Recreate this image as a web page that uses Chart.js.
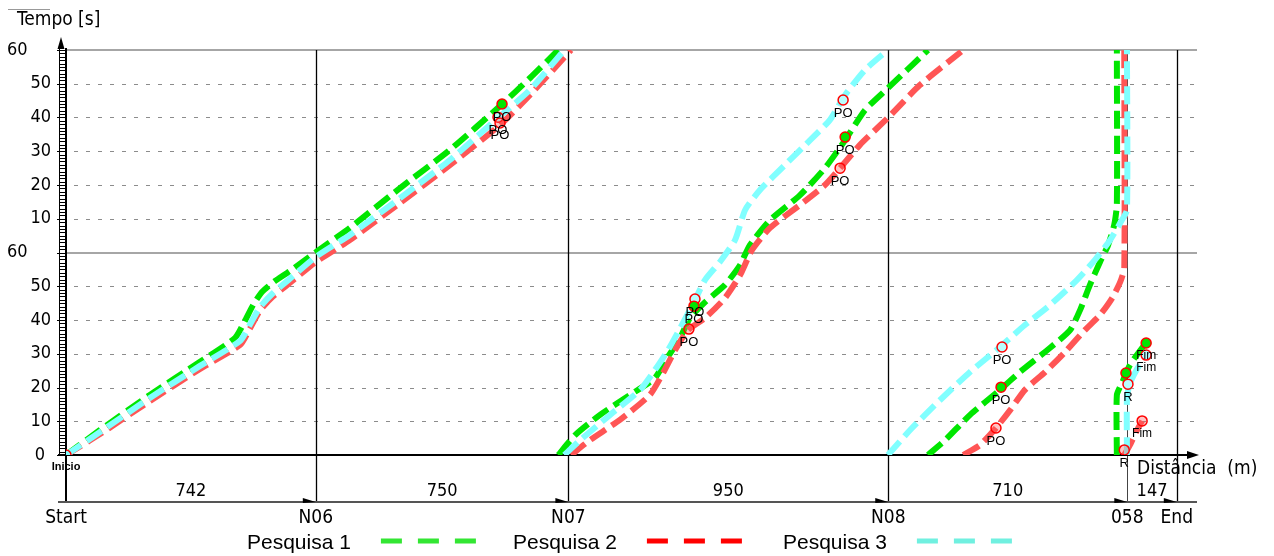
<!DOCTYPE html>
<html>
<head>
<meta charset="utf-8">
<title>Tempo x Distância</title>
<script src="https://cdn.jsdelivr.net/npm/chart.js@4.4.1/dist/chart.umd.min.js"></script>
<style>
  html, body { margin: 0; padding: 0; background: #fff; }
  #wrap { width: 1274px; height: 556px; position: relative; }
</style>
</head>
<body>
<div id="wrap"><canvas id="chart"></canvas></div>
<script>
// stations along the route (m) and the section lengths between them
const stationNames = ['Start', 'N06', 'N07', 'N08', '058', 'End'];
const stationDist = [0, 742, 1492, 2442, 3152, 3299];
const sectionLengths = [742, 750, 950, 710, 147];

// time axis runs 0..120 s and wraps, labels show seconds within the minute
const timeTicks = [0, 10, 20, 30, 40, 50, 60, 70, 80, 90, 100, 110, 120];

// Pesquisa 1 (null = wrap back to 0 s)
const p1Dist = [0, 101, 249, 398, 502, 530, 556, 582, 620, 665, 742, 843, 992, 1140, 1289, 1378, 1462,
  1462, 1462, 1512, 1586, 1675, 1749, 1785, 1824, 1853, 1898, 1957, 2002, 2031, 2091, 2180, 2254, 2314, 2373, 2441, 2560,
  2560, 2560, 2611, 2685, 2774, 2833, 2922, 2982, 3012, 3041, 3071, 3095, 3113, 3121, 3121,
  3121, 3121, 3121, 3136, 3160, 3207];
const p1Time = [0, 7.4, 17.8, 27.6, 34.7, 39.5, 44.5, 48.3, 51.5, 54.5, 60.1, 67.3, 79.1, 90.4, 103.4, 111.7, 120,
  null, 0, 5.9, 11.9, 17.8, 22.8, 28.7, 34.7, 40.6, 45.3, 50.4, 56.3, 62.2, 69.6, 77.0, 85.0, 93.3, 102.2, 108.7, 120,
  null, 0, 4.4, 11.9, 19.3, 24.6, 31.7, 37.0, 43.0, 50.4, 57.2, 62.2, 68.1, 74.1, 120,
  null, 0, 17.8, 21.3, 26.7, 33.2];

// Pesquisa 2
const p2Dist = [0, 101, 249, 398, 517, 546, 576, 615, 660, 742, 843, 992, 1140, 1289, 1378, 1500,
  1500, 1500, 1556, 1645, 1734, 1770, 1809, 1847, 1898, 1957, 2002, 2037, 2091, 2180, 2254, 2299, 2358, 2441, 2536, 2665,
  2665, 2665, 2715, 2762, 2804, 2848, 2908, 2967, 3026, 3071, 3107, 3131, 3143, 3143,
  3143, 3143, 3160, 3178, 3196];
const p2Time = [0, 6.2, 16.0, 25.5, 32.6, 37.4, 42.8, 47.0, 50.6, 57.2, 63.7, 74.7, 85.9, 97.8, 106.7, 120,
  null, 0, 4.4, 10.4, 17.8, 23.7, 31.1, 37.0, 40.6, 46.5, 53.3, 60.7, 67.3, 74.1, 80.0, 85.0, 91.9, 99.9, 109.6, 120,
  null, 0, 3.0, 8.0, 13.3, 19.3, 24.6, 30.5, 37.0, 41.5, 46.5, 51.3, 55.4, 120,
  null, 0, 3.0, 6.8, 10.1];

// Pesquisa 3
const p3Dist = [0, 101, 249, 398, 517, 546, 576, 615, 660, 742, 843, 992, 1140, 1283, 1378, 1480,
  1480, 1480, 1527, 1616, 1705, 1749, 1788, 1824, 1868, 1898, 1942, 1987, 2017, 2061, 2135, 2210, 2269, 2314, 2373, 2441,
  2441, 2441, 2507, 2596, 2685, 2774, 2848, 2922, 2997, 3056, 3101, 3136, 3151, 3151,
  3151, 3151, 3151, 3160, 3181, 3208];
const p3Time = [0, 6.8, 16.9, 26.4, 33.8, 38.6, 43.8, 48.0, 51.8, 58.7, 65.2, 76.1, 87.4, 99.9, 108.2, 120,
  null, 0, 4.4, 11.9, 19.3, 25.2, 31.1, 37.6, 45.9, 51.9, 57.2, 63.7, 72.6, 78.5, 85.9, 93.3, 99.3, 106.7, 114.1, 120,
  null, 0, 7.4, 16.3, 24.6, 32.0, 38.5, 44.4, 51.3, 57.8, 63.7, 69.6, 72.6, 120,
  null, 0, 16.9, 21.3, 25.5, 29.6];

// events marked on each run
const p1MarkDist = [1295, 1865, 2314, 2777, 3148, 3208];
const p1MarkTime = [104.0, 44.1, 94.2, 20.1, 24.3, 33.2];
const p1MarkText = ['PO', 'PO', 'PO', 'PO', '', 'Fim'];
const p2MarkDist = [1289, 1850, 2299, 2762, 3143, 3196];
const p2MarkTime = [98.4, 37.3, 85.0, 8.0, 1.5, 10.1];
const p2MarkText = ['PO', 'PO', 'PO', 'PO', 'R', 'Fim'];
const p3MarkDist = [1283, 1868, 2308, 2780, 3154, 3208];
const p3MarkTime = [100.1, 46.2, 105.2, 32.0, 21.0, 29.6];
const p3MarkText = ['PO', 'PO', 'PO', 'PO', 'R', 'Fim'];
const startMarkDist = [0];
const startMarkTime = [0];
const startMarkText = ['Inicio'];

const SANS = '"DejaVu Sans Condensed", "DejaVu Sans", sans-serif';
const ARIAL = '"Liberation Sans", Arial, sans-serif';

function pts(dist, time) {
  return dist.map((d, i) => ({ x: d, y: time[i] }));
}

function runLine(label, dist, time, color, order) {
  return {
    label: label,
    data: pts(dist, time),
    borderColor: color,
    borderWidth: 6,
    borderDash: [18, 7],
    borderCapStyle: 'butt',
    pointRadius: 0,
    tension: 0.2,
    spanGaps: false,
    order: order
  };
}

function marks(dist, time, text, fill) {
  return {
    label: 'marks',
    data: pts(dist, time),
    texts: text,
    showLine: false,
    pointRadius: 5,
    pointBorderColor: '#ff0000',
    pointBorderWidth: 1.5,
    pointBackgroundColor: fill,
    order: 0
  };
}

const legendItems = [
  { text: 'Pesquisa 1', color: '#33e633' },
  { text: 'Pesquisa 2', color: '#ff0000' },
  { text: 'Pesquisa 3', color: '#70f0e0' }
];

function line(ctx, x1, y1, x2, y2) {
  ctx.beginPath();
  ctx.moveTo(x1, y1);
  ctx.lineTo(x2, y2);
  ctx.stroke();
}

function tri(ctx, a, b, c) {
  ctx.beginPath();
  ctx.moveTo(a[0], a[1]);
  ctx.lineTo(b[0], b[1]);
  ctx.lineTo(c[0], c[1]);
  ctx.closePath();
  ctx.fill();
}

const frame = {
  id: 'frame',
  beforeDatasetsDraw(chart) {
    const { ctx, chartArea: a, scales: { x, y } } = chart;
    const rowY = a.bottom + 47;
    ctx.save();

    // dashed grid, solid at full minutes
    ctx.lineWidth = 1;
    ctx.strokeStyle = '#8c8c8c';
    ctx.setLineDash([4, 8]);
    timeTicks.forEach(t => {
      if (t % 60 === 0) return;
      const py = Math.round(y.getPixelForValue(t)) + 0.5;
      line(ctx, a.left + 8, py, a.right, py);
    });
    ctx.setLineDash([]);
    ctx.strokeStyle = '#a6a6a6';
    ctx.lineWidth = 2;
    [60, 120].forEach(t => {
      const py = Math.round(y.getPixelForValue(t));
      line(ctx, a.left, py, a.right, py);
    });

    // station verticals
    stationDist.forEach((d, i) => {
      if (i === 0) return;
      const px = Math.round(x.getPixelForValue(d)) + 0.5;
      ctx.lineWidth = i === 4 ? 1 : 1.3;
      ctx.strokeStyle = i === 4 ? '#444' : '#000';
      line(ctx, px, a.top, px, rowY);
    });

    // time axis with ruler ticks
    ctx.strokeStyle = '#000';
    ctx.lineWidth = 1;
    for (let t = 0; t <= 120; t++) {
      const py = Math.round(y.getPixelForValue(t)) + 0.5;
      line(ctx, a.left - (t % 10 === 0 ? 9 : 6), py, a.left, py);
    }
    line(ctx, a.left - 6.5, a.top - 2, a.left - 6.5, a.bottom);
    ctx.lineWidth = 2;
    line(ctx, a.left, a.top - 2, a.left, rowY);
    ctx.fillStyle = '#000';
    tri(ctx, [a.left - 5, a.top - 13], [a.left - 8.5, a.top - 1], [a.left - 1.5, a.top - 1]);

    // distance axis
    ctx.lineWidth = 2;
    line(ctx, a.left - 8, a.bottom, a.right - 8, a.bottom);
    tri(ctx, [a.right + 2, a.bottom], [a.right - 10, a.bottom - 4], [a.right - 10, a.bottom + 4]);

    // section row with arrows
    ctx.strokeStyle = '#555';
    line(ctx, a.left - 8, rowY, a.right, rowY);
    ctx.fillStyle = '#000';
    stationDist.forEach((d, i) => {
      if (i === 0) return;
      const px = x.getPixelForValue(d);
      tri(ctx, [px, rowY], [px - 13, rowY - 4], [px - 13, rowY + 1]);
    });
    ctx.restore();
  },
  afterDatasetsDraw(chart) {
    const { ctx, chartArea: a, scales: { x, y } } = chart;
    const rowY = a.bottom + 47;
    ctx.save();
    ctx.fillStyle = '#000';
    ctx.textBaseline = 'middle';

    // event labels under the markers
    chart.data.datasets.forEach((ds, i) => {
      if (!ds.texts) return;
      const meta = chart.getDatasetMeta(i);
      meta.data.forEach((pt, j) => {
        const s = ds.texts[j];
        if (!s) return;
        ctx.textAlign = 'center';
        if (s === 'Inicio') {
          ctx.font = 'bold 11px ' + ARIAL;
          ctx.fillText(s, pt.x, pt.y + 12);
        } else {
          ctx.font = (s === 'Fim' ? '12px ' : '13px ') + ARIAL;
          ctx.fillText(s, pt.x, pt.y + 13);
        }
      });
    });

    // time tick labels
    ctx.font = '18px ' + SANS;
    timeTicks.forEach(t => {
      const py = y.getPixelForValue(t);
      if (t === 0) {
        ctx.textAlign = 'right';
        ctx.fillText('0', a.left - 21, py);
      } else if (t % 60 === 0) {
        ctx.textAlign = 'left';
        ctx.fillText('60', 7, py);
      } else {
        ctx.textAlign = 'right';
        ctx.fillText(String(t % 60), a.left - 15, py);
      }
    });

    // axis titles
    ctx.textAlign = 'left';
    ctx.font = '19px ' + SANS;
    ctx.fillText('Tempo [s]', 17, 20);
    ctx.strokeStyle = '#999';
    ctx.lineWidth = 1;
    line(ctx, 8, 9.5, 50, 9.5);
    ctx.fillText('Distância  (m)', 1137, a.bottom + 14);

    // section lengths and station names
    ctx.textAlign = 'center';
    ctx.font = '18px ' + SANS;
    sectionLengths.forEach((len, i) => {
      const mid = (x.getPixelForValue(stationDist[i]) + x.getPixelForValue(stationDist[i + 1])) / 2;
      ctx.fillText(String(len), mid, rowY - 11);
    });
    ctx.font = '19px ' + SANS;
    stationNames.forEach((n, i) => {
      ctx.fillText(n, x.getPixelForValue(stationDist[i]), rowY + 16);
    });

    // legend: text first, then the dashed sample
    ctx.font = '21px ' + ARIAL;
    ctx.textAlign = 'left';
    const legendX = [247, 513, 783];
    legendItems.forEach((it, i) => {
      ctx.fillStyle = '#000';
      ctx.fillText(it.text, legendX[i], 543);
      const x0 = legendX[i] + ctx.measureText(it.text).width + 30;
      ctx.strokeStyle = it.color;
      ctx.lineWidth = 5;
      ctx.setLineDash([21, 16]);
      line(ctx, x0, 541, x0 + 95, 541);
      ctx.setLineDash([]);
    });
    ctx.restore();
  }
};

new Chart(document.getElementById('chart'), {
  type: 'line',
  data: {
    datasets: [
      runLine('Pesquisa 1', p1Dist, p1Time, '#00e600', 3),
      runLine('Pesquisa 2', p2Dist, p2Time, '#ff5555', 2),
      runLine('Pesquisa 3', p3Dist, p3Time, '#80ffff', 1),
      marks(p1MarkDist, p1MarkTime, p1MarkText, '#00e600'),
      marks(p2MarkDist, p2MarkTime, p2MarkText, 'rgba(255,85,85,0.35)'),
      marks(p3MarkDist, p3MarkTime, p3MarkText, '#b8ffff'),
      marks(startMarkDist, startMarkTime, startMarkText, 'rgba(255,255,255,0)')
    ]
  },
  options: {
    responsive: true,
    maintainAspectRatio: false,
    animation: false,
    devicePixelRatio: 1,
    layout: { padding: { left: 66, right: 77, top: 50, bottom: 101 } },
    scales: {
      x: { type: 'linear', min: 0, max: 3359, display: false },
      y: { type: 'linear', min: 0, max: 120, display: false }
    },
    plugins: {
      legend: { display: false },
      tooltip: { enabled: false }
    }
  },
  plugins: [frame]
});
</script>
</body>
</html>
